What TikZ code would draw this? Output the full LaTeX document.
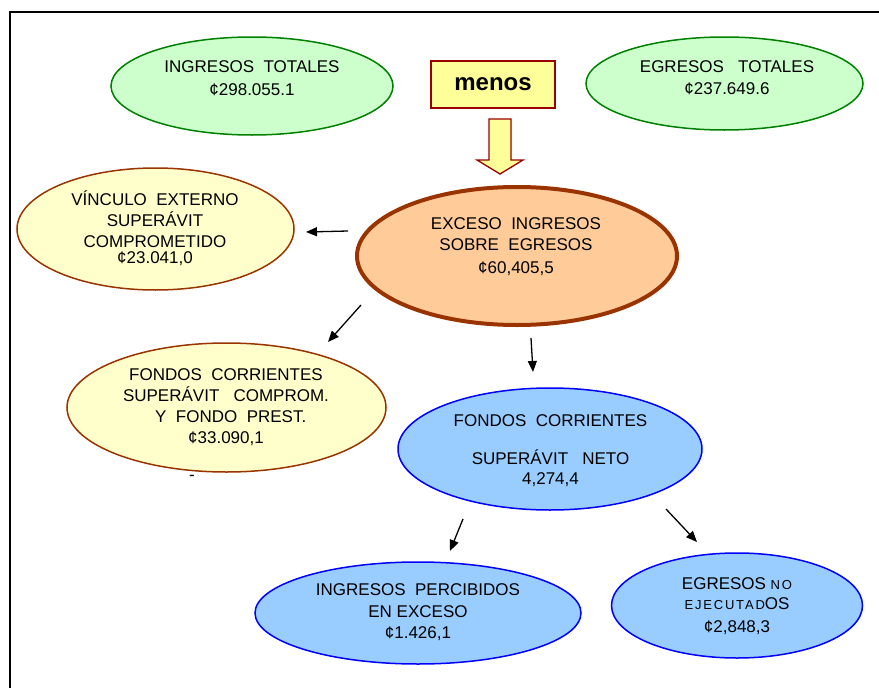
\documentclass[tikz,border=0pt]{standalone}
\usepackage{fontspec}
\setmainfont{Liberation Sans}
\usetikzlibrary{shapes.geometric,arrows.meta}
\definecolor{gfill}{HTML}{CCFFCC}
\definecolor{gdraw}{HTML}{008000}
\definecolor{yfill}{HTML}{FFFFCC}
\definecolor{brown}{HTML}{993300}
\definecolor{ofill}{HTML}{FFCC99}
\definecolor{bfill}{HTML}{99CCFF}
\definecolor{bdraw}{HTML}{0000FF}
\definecolor{mfill}{HTML}{FFFF99}
\definecolor{mdraw}{HTML}{990000}
\newcommand{\smallsp}[1]{{\fontsize{13}{14}\selectfont\addfontfeature{LetterSpace=14}#1}}
\tikzset{
  ell/.style={ellipse, inner sep=0pt, line width=1.5pt},
  greenell/.style={ell, fill=gfill, draw=gdraw},
  yellowell/.style={ell, fill=yfill, draw=brown},
  mainell/.style={ell, fill=ofill, draw=brown, line width=4pt},
  blueell/.style={ell, fill=bfill, draw=bdraw},
  txt/.style={align=center, inner sep=0pt, font=\fontsize{17}{21}\selectfont},
  conn/.style={line width=1.3pt, -{Triangle[length=11pt,width=9pt]}},
  menosbox/.style={draw=mdraw, fill=mfill, line width=1.5pt, inner sep=0pt,
     minimum width=124pt, minimum height=47pt,
     font=\fontsize{24}{26}\selectfont\bfseries}
}
\begin{document}
\begin{tikzpicture}[x=1pt,y=-1pt]
\useasboundingbox (0,0) rectangle (879,688);
% frame
\draw[line width=2pt] (10,688) -- (10,12) -- (879,12);

% top row
\node[greenell, minimum width=282pt, minimum height=98pt] (it) at (252,86) {};
\node[txt, font=\fontsize{17}{23}\selectfont] (itt) at (252,78.5) {INGRESOS\ \ TOTALES\\¢298.055.1};

\node[greenell, minimum width=277pt, minimum height=93pt] (et) at (724.5,83.5) {};
\node[txt, font=\fontsize{17}{22}\selectfont] (ett) at (727,78) {EGRESOS\ \ \ TOTALES\\¢237.649.6};

\node[menosbox] (menos) at (493,84.5) {menos};

% big arrow
\draw[draw=mdraw, fill=mfill, line width=1.3pt, line join=miter]
  (489,119) -- (511,119) -- (511,160) -- (523,160) -- (500,174) -- (477,160) -- (489,160) -- cycle;

% main
\node[mainell, minimum width=320pt, minimum height=138pt] (main) at (517,256) {};
\node[txt] (maint) at (516,247) {EXCESO\ \ INGRESOS\\SOBRE\ \ EGRESOS\\[2pt]¢60,405,5};

% vinculo
\node[yellowell, minimum width=277pt, minimum height=122pt] (vin) at (155.5,229) {};
\node[txt] (vint) at (155,228.5) {VÍNCULO\ \ EXTERNO\\SUPERÁVIT\\COMPROMETIDO\\[-5pt]¢23.041,0};

% fondos corrientes yellow
\node[yellowell, minimum width=319pt, minimum height=129pt] (fcy) at (226.5,407.5) {};
\node[txt] (fcyt) at (226,407.5) {FONDOS\ \ CORRIENTES\\SUPERÁVIT\ \ \ COMPROM.\\\ \ Y\ \ FONDO\ \ PREST.\\¢33.090,1};
\node[inner sep=0pt, font=\fontsize{17}{20}\selectfont] (dash) at (192,478) {-};

% fondos corrientes blue
\node[blueell, minimum width=304pt, minimum height=122pt] (fcb) at (550,449) {};
\node[txt, font=\fontsize{17}{20}\selectfont] (fcbt) at (550.5,451) {FONDOS\ \ CORRIENTES\\[18pt]SUPERÁVIT\ \ \ NETO\\4,274,4};

% bottom
\node[blueell, minimum width=326pt, minimum height=102pt] (ipe) at (418,613) {};
\node[txt, font=\fontsize{17}{21.5}\selectfont] (ipet) at (418,612.5) {INGRESOS\ \ PERCIBIDOS\\EN EXCESO\\¢1.426,1};

\node[blueell, minimum width=251pt, minimum height=105pt] (ene) at (737,605.5) {};
\node[txt, font=\fontsize{17}{20}\selectfont] (enet) at (737,606.5) {EGRESOS \smallsp{NO}\\\smallsp{EJECUTAD}OS\\[3pt]¢2,848,3};

% arrow endpoints
\coordinate (a1s) at (348,231); \coordinate (a1e) at (306,232);
\coordinate (a2s) at (361,305); \coordinate (a2e) at (328,342);
\coordinate (a3s) at (531,338); \coordinate (a3e) at (533,372);
\coordinate (a4s) at (463,519); \coordinate (a4e) at (450,551);
\coordinate (a5s) at (666,509); \coordinate (a5e) at (697,542);
\draw[conn] (a1s) -- (a1e);
\draw[conn] (a2s) -- (a2e);
\draw[conn] (a3s) -- (a3e);
\draw[conn] (a4s) -- (a4e);
\draw[conn] (a5s) -- (a5e);
\end{tikzpicture}
\end{document}
